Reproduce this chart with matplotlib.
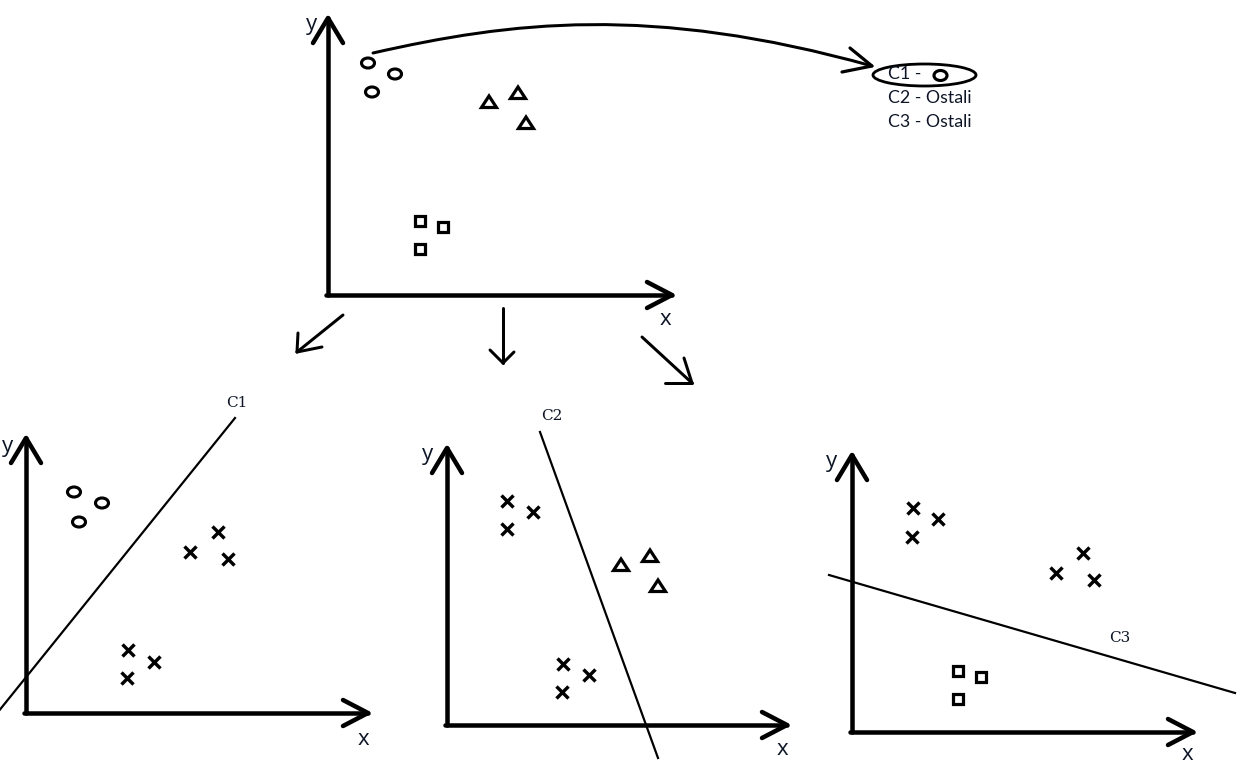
import matplotlib
matplotlib.use("Agg")
import matplotlib.pyplot as plt
from matplotlib.patches import Ellipse, Rectangle, Polygon, PathPatch
from matplotlib.path import Path

# canvas is in pixels (y goes down), 1 px = 0.72 pt at dpi 100
W, H = 1240, 774
PT = 0.72

# --- data: point positions of the three classes on each sketch ---
# top sketch (all classes)
top_circ_x = [368, 395, 372]
top_circ_y = [63, 74, 92]
top_tri_x = [489, 518, 526]
top_tri_y = [102, 93, 123]
top_sq_x = [420, 443, 420]
top_sq_y = [221, 227, 249]

# C1 vs rest
c1_circ_x = [74, 102, 79]
c1_circ_y = [492, 503, 522]
c1_cross_x = [190, 218, 228, 128, 154, 127]
c1_cross_y = [552, 532, 559, 650, 662, 678]

# C2 vs rest
c2_cross_x = [507, 533, 507, 563, 589, 562]
c2_cross_y = [501, 512, 529, 664, 675, 692]
c2_tri_x = [621, 650, 658]
c2_tri_y = [565, 556, 586]

# C3 vs rest
c3_cross_x = [913, 938, 912, 1056, 1083, 1094]
c3_cross_y = [508, 519, 537, 573, 553, 580]
c3_sq_x = [958, 981, 958]
c3_sq_y = [671, 677, 699]

# separating lines (x0, y0, x1, y1) and their labels
sep_lines = {"C1": (-2, 712, 235, 418), "C2": (540, 432, 658, 758), "C3": (829, 575, 1235, 693)}
sep_labels = {"C1": (237, 403), "C2": (552, 416), "C3": (1120, 638)}

# legend text
legend_lines = ["C1 -", "C2 - Ostali", "C3 - Ostali"]
legend_y = [74, 98, 122]

# axes of each sketch: origin x, origin y, top of y axis, end of x axis
panels = [(328, 295, 18, 672), (26, 713, 438, 368), (447, 725, 448, 787), (852, 732, 455, 1193)]
y_labels = [(311, 30), (8, 452), (428, 460), (832, 467)]
x_labels = [(665, 325), (363, 745), (782, 755), (1187, 760)]

INK = "black"
TXT = "#0d1526"

fig = plt.figure(figsize=(W / 100, H / 100), dpi=100)
ax = fig.add_axes([0, 0, 1, 1])
ax.set_xlim(0, W)
ax.set_ylim(H, 0)
ax.axis("off")


def stroke(xs, ys, lw_px):
    ax.plot(xs, ys, color=INK, lw=lw_px * PT, solid_capstyle="round", solid_joinstyle="round")


def circles(xs, ys):
    for x, y in zip(xs, ys):
        ax.add_patch(Ellipse((x, y), 13, 10, fill=False, ec=INK, lw=3.1 * PT))


def triangles(xs, ys):
    for x, y in zip(xs, ys):
        ax.add_patch(Polygon([(x - 7.5, y + 5.5), (x + 7.5, y + 5.5), (x, y - 6)], closed=True,
                             fill=False, ec=INK, lw=3.2 * PT, joinstyle="miter"))


def squares(xs, ys):
    for x, y in zip(xs, ys):
        ax.add_patch(Rectangle((x - 4.6, y - 4.6), 9.2, 9.2, fill=False, ec=INK, lw=3.2 * PT))


def crosses(xs, ys):
    ax.plot(xs, ys, ls="none", marker="x", ms=8.4, mew=3.4 * PT, color=INK)


# axes with arrow heads
for ox, oy, top, right in panels:
    stroke([ox, ox], [oy, top], 4.5)
    stroke([ox - 15, ox, ox + 15], [top + 25, top, top + 25], 4.5)
    stroke([ox - 2, right], [oy, oy], 4.5)
    stroke([right - 25, right, right - 25], [oy - 13, oy, oy + 13], 4.5)

for (lx, ly), (xx, xy) in zip(y_labels, x_labels):
    ax.text(lx, ly, "y", ha="center", va="baseline", fontsize=16, family="Open Sans", color=TXT)
    ax.text(xx, xy, "x", ha="center", va="baseline", fontsize=16, family="Open Sans", color=TXT)

# points
circles(top_circ_x, top_circ_y)
triangles(top_tri_x, top_tri_y)
squares(top_sq_x, top_sq_y)

circles(c1_circ_x, c1_circ_y)
crosses(c1_cross_x, c1_cross_y)

crosses(c2_cross_x, c2_cross_y)
triangles(c2_tri_x, c2_tri_y)

crosses(c3_cross_x, c3_cross_y)
squares(c3_sq_x, c3_sq_y)

# separating lines
for name, (x0, y0, x1, y1) in sep_lines.items():
    ax.plot([x0, x1], [y0, y1], color=INK, lw=2.2 * PT)
    lx, ly = sep_labels[name]
    ax.text(lx, ly, name, ha="center", va="center", fontsize=11, family="DejaVu Serif", color=TXT)

# curved arrow to the legend
curve = Path([(373, 53), (510, 22), (650, 4), (872, 66)],
             [Path.MOVETO, Path.CURVE4, Path.CURVE4, Path.CURVE4])
ax.add_patch(PathPatch(curve, fill=False, ec=INK, lw=3.0 * PT, capstyle="round"))
stroke([850, 872, 842], [48, 66, 72], 3.2)

# arrows from the top sketch to the three sub problems
arrows = [
    ((343, 315), (297, 352), [(1, -19), (25, -5)]),
    ((503, 308), (503, 363), [(-13, -13), (11, -11)]),
    ((642, 337), (692, 383), [(-8, -25), (-27, 0)]),
]
for (sx, sy), (tx, ty), heads in arrows:
    stroke([sx, tx], [sy, ty], 3.0)
    for dx, dy in heads:
        stroke([tx, tx + dx], [ty, ty + dy], 3.0)

# legend with C1 circled
ax.add_patch(Ellipse((924.5, 75), 103, 22, fill=False, ec=INK, lw=2.8 * PT))
circles([940.5], [75.5])
for txt, y in zip(legend_lines, legend_y):
    ax.text(888, y, txt, ha="left", va="center", fontsize=12.8, family="Lato", color=TXT)

fig.savefig("out.png", dpi=100)
plt.close(fig)
